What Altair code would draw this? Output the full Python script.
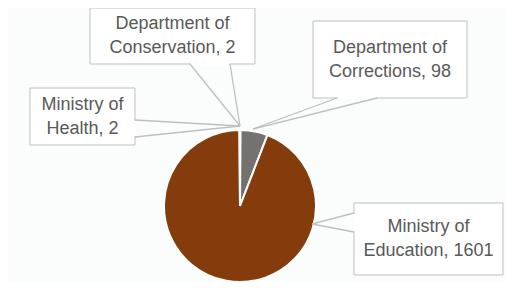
import altair as alt
import pandas as pd

# ---- data ----
categories = ["Department of Conservation", "Department of Corrections",
              "Ministry of Education", "Ministry of Health"]
values = [2, 98, 1601, 2]
slice_colors = ["#A5A5A5", "#767171", "#843C0C", "#C55A11"]

# ---- layout (chart pixel coordinates, y downward) ----
W, H = 497, 274
pie_cx, pie_cy, pie_r = 232, 198, 76
box_x = [82, 305, 346, 22]
box_x2 = [247, 459, 495, 127]
box_y = [0, 13, 195, 80]
box_y2 = [56, 90, 267, 137]
base_ax = [182, 329, 346, 127]
base_ay = [56, 90, 205, 112]
base_bx = [222, 369, 346, 127]
base_by = [56, 90, 224, 129]
tip_x = [232, 245, 304, 232]
tip_y = [118, 121, 216, 118]
LINE_H = 24


def label(cat, val):
    head, rest = cat.split(" of ", 1)
    return f"{head} of\n{rest}, {val}"


pie_df = pd.DataFrame({"category": categories, "value": values,
                       "order": list(range(len(categories)))})

lab = pd.DataFrame({
    "text": [label(c, v) for c, v in zip(categories, values)],
    "bx": box_x, "bx2": box_x2, "by": box_y, "by2": box_y2,
    "tx": [(a + b) / 2 for a, b in zip(box_x, box_x2)],
    "ty": [(a + b) / 2 - LINE_H / 2 for a, b in zip(box_y, box_y2)],
})

seg_rows = []
cover_rows = []
for i in range(len(categories)):
    seg_rows.append({"x": base_ax[i], "y": base_ay[i], "x2": tip_x[i], "y2": tip_y[i]})
    seg_rows.append({"x": base_bx[i], "y": base_by[i], "x2": tip_x[i], "y2": tip_y[i]})
    if base_ay[i] == base_by[i]:
        cover_rows.append({"x": base_ax[i] + 1, "y": base_ay[i], "x2": base_bx[i] - 1, "y2": base_by[i]})
    else:
        cover_rows.append({"x": base_ax[i], "y": base_ay[i] + 1, "x2": base_bx[i], "y2": base_by[i] - 1})
seg = pd.DataFrame(seg_rows)
cover = pd.DataFrame(cover_rows)

xs = alt.Scale(domain=[0, W], nice=False, zero=False)
ys = alt.Scale(domain=[0, H], nice=False, zero=False, reverse=True)

pie = alt.Chart(pie_df).mark_arc(radius=pie_r, stroke="white", strokeWidth=2).encode(
    theta=alt.Theta("value:Q", stack=True),
    order=alt.Order("order:Q"),
    color=alt.Color("category:N", scale=alt.Scale(domain=categories, range=slice_colors), legend=None),
    x=alt.value(pie_cx),
    y=alt.value(pie_cy),
)

boxes = alt.Chart(lab).mark_rect(fill="white", stroke="#BFBFBF", strokeWidth=1).encode(
    x=alt.X("bx:Q", scale=xs, axis=None), x2="bx2:Q",
    y=alt.Y("by:Q", scale=ys, axis=None), y2="by2:Q",
)

covers = alt.Chart(cover).mark_rule(color="white", strokeWidth=2.5).encode(
    x=alt.X("x:Q", scale=xs, axis=None), x2="x2:Q",
    y=alt.Y("y:Q", scale=ys, axis=None), y2="y2:Q",
)

leaders = alt.Chart(seg).mark_rule(color="#BFBFBF", strokeWidth=1.3).encode(
    x=alt.X("x:Q", scale=xs, axis=None), x2="x2:Q",
    y=alt.Y("y:Q", scale=ys, axis=None), y2="y2:Q",
)

texts = alt.Chart(lab).mark_text(
    font="Liberation Sans", fontSize=18, color="#595959",
    align="center", baseline="middle", lineBreak="\n", lineHeight=LINE_H,
).encode(
    x=alt.X("tx:Q", scale=xs, axis=None),
    y=alt.Y("ty:Q", scale=ys, axis=None),
    text="text:N",
)

chart = alt.layer(pie, boxes, covers, leaders, texts).properties(
    width=W, height=H, padding=0,
    autosize=alt.AutoSizeParams(type="none"),
    background="#FBFCFC",
).configure_view(stroke=None)

chart.save("out.html", embed_options={"renderer": "svg", "actions": False})
